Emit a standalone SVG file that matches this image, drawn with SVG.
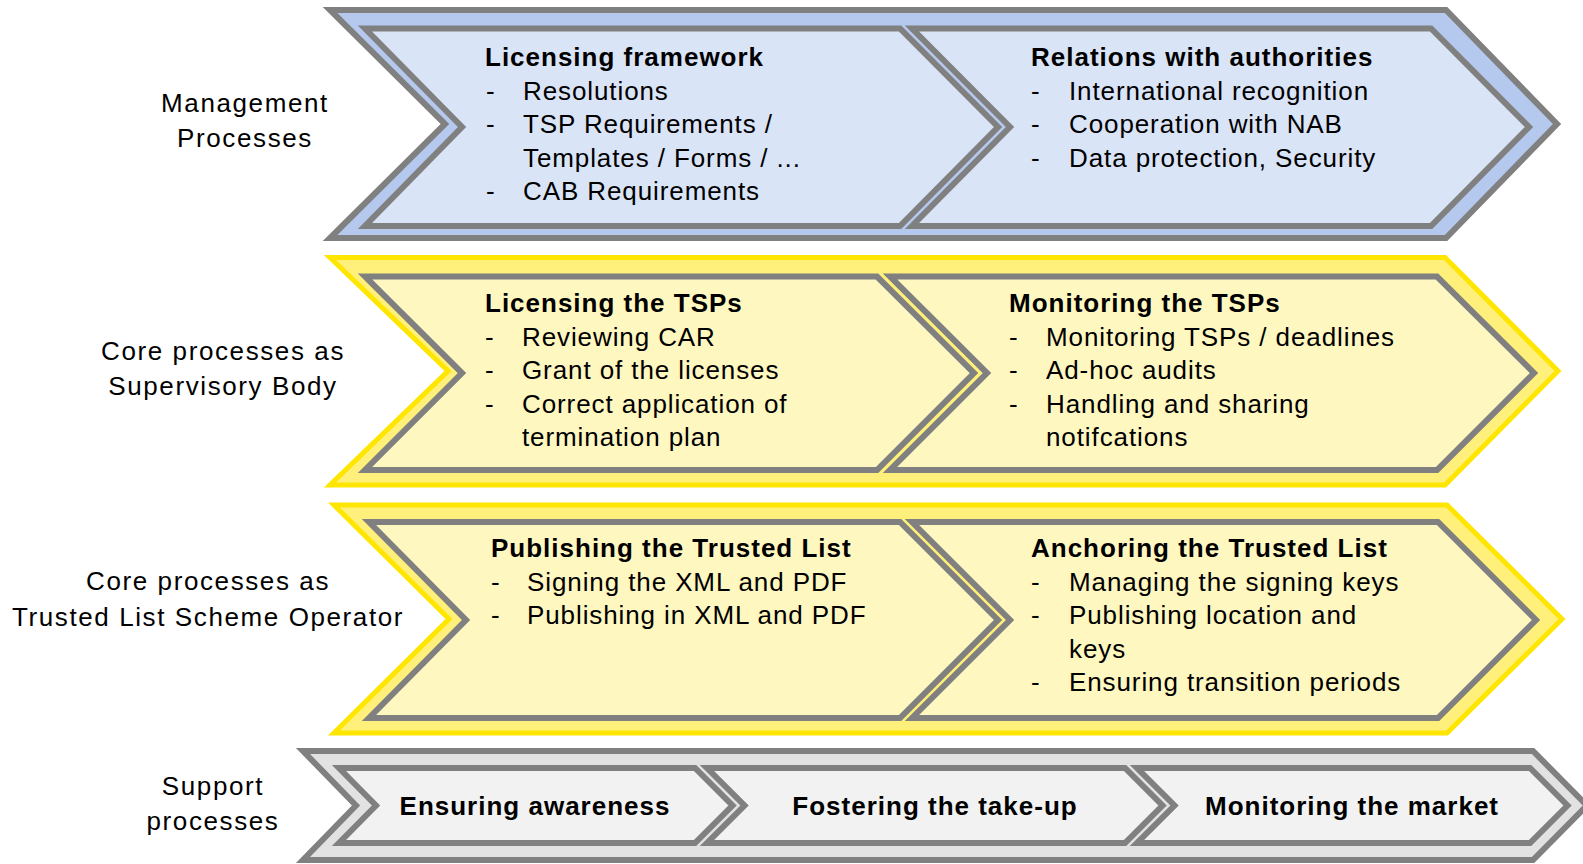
<svg xmlns="http://www.w3.org/2000/svg" width="1583" height="864" viewBox="0 0 1583 864">
<style>
text{font-family:"Liberation Sans",Arial,Helvetica,sans-serif;font-size:26px;fill:#000}
.lbl{letter-spacing:1.6px;text-anchor:middle}
.t{font-weight:bold;letter-spacing:1px}
.i{letter-spacing:0.9px}
.c{text-anchor:middle}
.g{stroke:#808080;stroke-width:6;stroke-linejoin:miter;stroke-miterlimit:10}
.oy{stroke:#ffe600;stroke-width:5;fill:#fff07c;stroke-linejoin:miter}
.ob{fill:#b5c8ee}
.og{fill:#e2e2e2}
.ib{fill:#dae4f7}
.iy{fill:#fff7c0}
.ig{fill:#f2f2f2}
</style>
<rect width="1583" height="864" fill="#fff"/>
<g id="connectors"/>

<!-- Row labels -->
<g id="label-management">
<text class="lbl" x="245" y="112">Management</text>
<text class="lbl" x="245" y="147">Processes</text>
</g>
<g id="label-supervisory">
<text class="lbl" x="223" y="360">Core processes as</text>
<text class="lbl" x="223" y="395">Supervisory Body</text>
</g>
<g id="label-tlso">
<text class="lbl" x="208" y="590">Core processes as</text>
<text class="lbl" x="208" y="626">Trusted List Scheme Operator</text>
</g>
<g id="label-support">
<text class="lbl" x="213" y="795">Support</text>
<text class="lbl" x="213" y="830">processes</text>
</g>

<!-- Row 1: management -->
<g id="row-management">
<path class="g ob" d="M330,10 H1446 L1557,124 L1446,238 H330 L445,124 Z"/>
</g>
<g id="node-licensing-framework">
<path class="g ib" d="M365,28.5 H900 L998,127 L900,226 H365 L462,127 Z"/>
<text class="t" x="485" y="66">Licensing framework</text>
<text class="i" x="486" y="99.5">-</text><text class="i" x="523" y="99.5">Resolutions</text>
<text class="i" x="486" y="133">-</text><text class="i" x="523" y="133">TSP Requirements /</text>
<text class="i" x="523" y="166.5">Templates / Forms / ...</text>
<text class="i" x="486" y="200">-</text><text class="i" x="523" y="200">CAB Requirements</text>
</g>
<g id="node-relations-authorities">
<path class="g ib" d="M912,28.5 H1431 L1529,127 L1431,226 H912 L1010,127 Z"/>
<text class="t" x="1031" y="66">Relations with authorities</text>
<text class="i" x="1031" y="99.5">-</text><text class="i" x="1069" y="99.5">International recognition</text>
<text class="i" x="1031" y="133">-</text><text class="i" x="1069" y="133">Cooperation with NAB</text>
<text class="i" x="1031" y="166.5">-</text><text class="i" x="1069" y="166.5">Data protection, Security</text>
</g>

<!-- Row 2: supervisory body -->
<g id="row-supervisory">
<path class="oy" d="M330,257.5 H1445 L1558,371 L1445,485 H330 L448,371 Z"/>
</g>
<g id="node-licensing-tsps">
<path class="g iy" d="M365,276.5 H877 L974,373 L877,470 H365 L462,373 Z"/>
<text class="t" x="485" y="312">Licensing the TSPs</text>
<text class="i" x="485" y="345.5">-</text><text class="i" x="522" y="345.5">Reviewing CAR</text>
<text class="i" x="485" y="379">-</text><text class="i" x="522" y="379">Grant of the licenses</text>
<text class="i" x="485" y="412.5">-</text><text class="i" x="522" y="412.5">Correct application of</text>
<text class="i" x="522" y="446">termination plan</text>
</g>
<g id="node-monitoring-tsps">
<path class="g iy" d="M890,276.5 H1437 L1534,373 L1437,470 H890 L987,373 Z"/>
<text class="t" x="1009" y="312">Monitoring the TSPs</text>
<text class="i" x="1009" y="345.5">-</text><text class="i" x="1046" y="345.5">Monitoring TSPs / deadlines</text>
<text class="i" x="1009" y="379">-</text><text class="i" x="1046" y="379">Ad-hoc audits</text>
<text class="i" x="1009" y="412.5">-</text><text class="i" x="1046" y="412.5">Handling and sharing</text>
<text class="i" x="1046" y="446">notifcations</text>
</g>

<!-- Row 3: trusted list scheme operator -->
<g id="row-tlso">
<path class="oy" d="M334,505 H1447 L1562,619 L1447,733 H334 L449,619 Z"/>
</g>
<g id="node-publishing-tl">
<path class="g iy" d="M369,522 H900 L998,620 L900,718 H369 L466,620 Z"/>
<text class="t" x="491" y="557">Publishing the Trusted List</text>
<text class="i" x="491" y="590.5">-</text><text class="i" x="527" y="590.5">Signing the XML and PDF</text>
<text class="i" x="491" y="624">-</text><text class="i" x="527" y="624">Publishing in XML and PDF</text>
</g>
<g id="node-anchoring-tl">
<path class="g iy" d="M912,522 H1438 L1536,620 L1438,718 H912 L1010,620 Z"/>
<text class="t" x="1031" y="557">Anchoring the Trusted List</text>
<text class="i" x="1031" y="590.5">-</text><text class="i" x="1069" y="590.5">Managing the signing keys</text>
<text class="i" x="1031" y="624">-</text><text class="i" x="1069" y="624">Publishing location and</text>
<text class="i" x="1069" y="657.5">keys</text>
<text class="i" x="1031" y="691">-</text><text class="i" x="1069" y="691">Ensuring transition periods</text>
</g>

<!-- Row 4: support -->
<g id="row-support">
<path class="g og" d="M303,751 H1533 L1587,805.5 L1533,860 H303 L356,805.5 Z"/>
</g>
<g id="node-awareness">
<path class="g ig" d="M339,768 H695 L732.5,805.5 L695,843 H339 L376,805.5 Z"/>
<text class="t c" x="535" y="815">Ensuring awareness</text>
</g>
<g id="node-takeup">
<path class="g ig" d="M707,768 H1125 L1162.5,805.5 L1125,843 H707 L744.5,805.5 Z"/>
<text class="t c" x="935" y="815">Fostering the take-up</text>
</g>
<g id="node-market">
<path class="g ig" d="M1137,768 H1530 L1567.5,805.5 L1530,843 H1137 L1174.5,805.5 Z"/>
<text class="t c" x="1352" y="815">Monitoring the market</text>
</g>
</svg>
